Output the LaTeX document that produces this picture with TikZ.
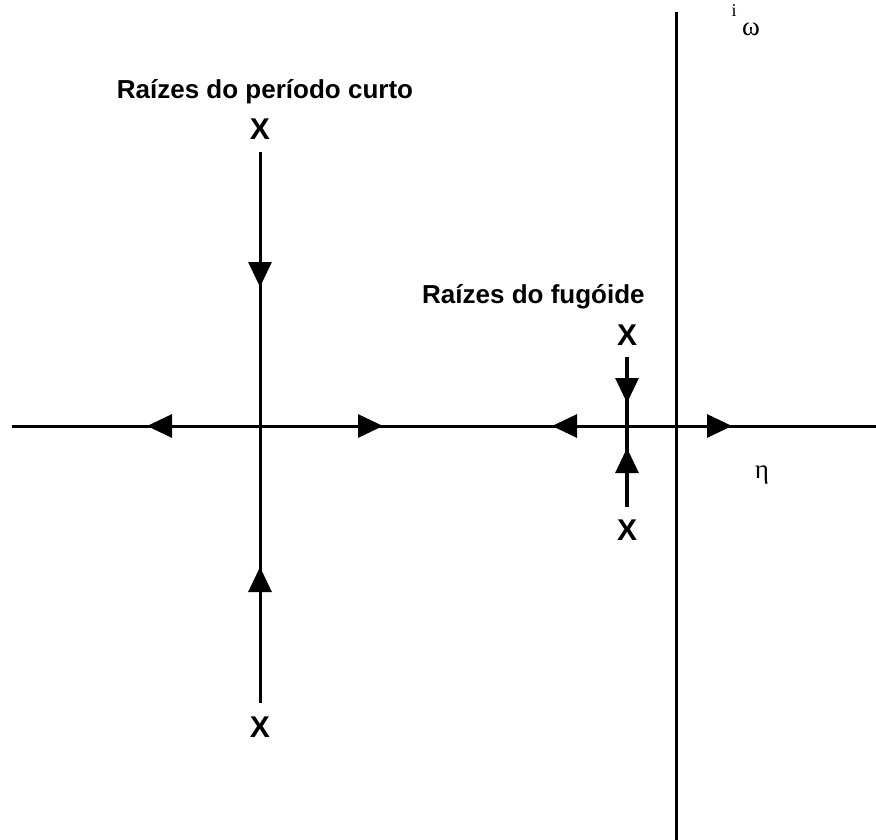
\documentclass[tikz,border=0pt]{standalone}
\usepackage{fontspec}
\setmainfont{Liberation Serif}
\setsansfont{Liberation Sans}
\usetikzlibrary{arrows.meta}
\tikzstyle{root}=[font=\sffamily\bfseries\fontsize{30}{30}\selectfont, inner sep=0pt]
\tikzstyle{caption}=[font=\sffamily\bfseries\fontsize{26}{30}\selectfont, inner sep=0pt]
\tikzstyle{greek}=[font=\fontsize{27}{27}\selectfont, inner sep=0pt]
\tikzstyle{axis}=[draw, line width=3pt]
\tikzstyle{flow}=[draw, line width=3pt, -{Triangle[length=25pt,width=23pt]}]

\begin{document}
\begin{tikzpicture}[x=1pt,y=-1pt]
    \useasboundingbox (0,0) rectangle (876,840);
    % First the axes and the points where the branches meet them
    \foreach \x/\y/\name in {12/426/west, 876/426/east, 676/12/north, 676/840/south, 676/426/O, 260/426/sC, 627/426/fC}
        \coordinate (\name) at (\x,\y);
    \path[axis] (west) -- (east);
    \path[axis] (north) -- (south);

    % The roots
    \foreach \x/\y/\name in {260/129/sTop, 260/727/sBot, 627/335/fTop, 627/530/fBot}
        \node[root] (\name) at (\x,\y) {X};

    % Ends of the branches and arrow tips
    \foreach \x/\y/\name in {260/152/sTopEnd, 260/703/sBotEnd, 627/357/fTopEnd, 627/507/fBotEnd, 260/287/sDown, 260/567/sUp, 147/426/sLeft, 383/426/sRight, 627/403/fDown, 627/448/fUp, 552/426/fLeft, 732/426/oRight}
        \coordinate (\name) at (\x,\y);

    \path[axis] (sTopEnd) -- (sBotEnd);
    \path[axis, line width=3.6pt] (fTopEnd) -- (fBotEnd);

    % Directions of the loci
    \foreach \source/\dest in {sTopEnd/sDown, sBotEnd/sUp, sC/sLeft, sC/sRight, fTopEnd/fDown, fBotEnd/fUp, fC/fLeft, O/oRight}
        \path[flow] (\source) -- (\dest);

    % Labels
    \node[caption, anchor=base] (sLabel) at (265,99) {Raízes do período curto};
    \node[caption, anchor=base west] (fLabel) at (422,303) {Raízes do fugóide};
    \node[font=\fontsize{18}{18}\selectfont, inner sep=0pt, anchor=base] (iLabel) at (734,17) {i};
    \node[greek, anchor=base] (wLabel) at (751,36) {ω};
    \node[greek, anchor=base] (eLabel) at (762,478) {η};
\end{tikzpicture}
\end{document}
